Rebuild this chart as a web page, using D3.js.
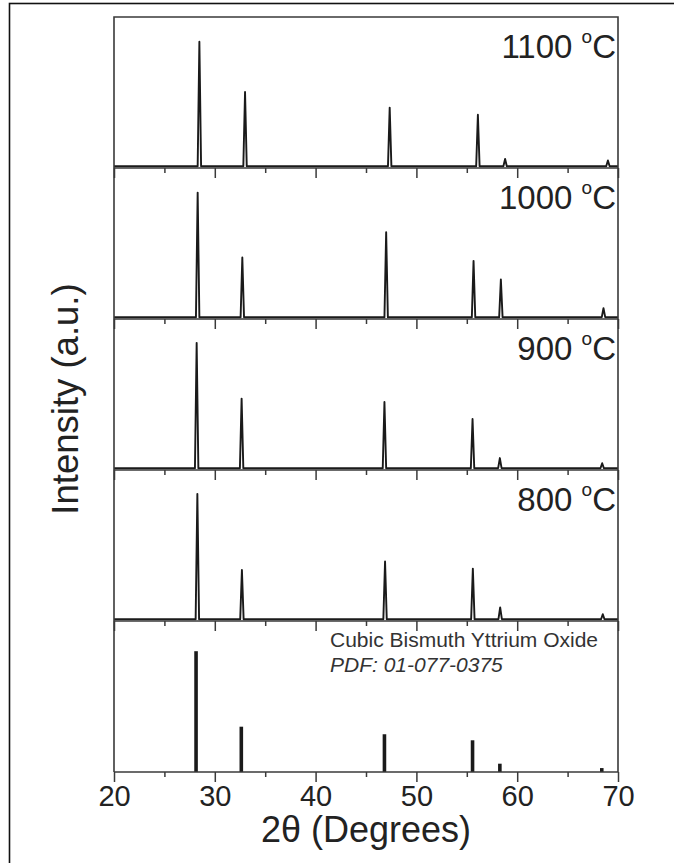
<!DOCTYPE html>
<html>
<head>
<meta charset="utf-8">
<script src="https://cdn.jsdelivr.net/npm/d3@7"></script>
<style>
    body { margin: 0; background: #fff; }
    svg { display: block; font-family: "Liberation Sans", Arial, sans-serif; }
</style>
</head>
<body>
<div id="chart"></div>
<script>
const width = 674;
const height = 863;

// panels, top to bottom
const sampleLabels = ["1100", "1000", "900", "800"];

// peak positions (2theta, deg) and heights (% of panel)
const pos1100 = [28.47, 33.0, 47.35, 56.1, 58.8, 69.0];
const int1100 = [83.6, 50.3, 40.0, 35.3, 6.0, 5.0];
const pos1000 = [28.3, 32.73, 47.0, 55.67, 58.38, 68.56];
const int1000 = [83.7, 40.7, 57.5, 38.5, 26.2, 7.2];
const pos900 = [28.2, 32.66, 46.83, 55.57, 58.28, 68.43];
const int900 = [84.2, 47.3, 45.0, 33.8, 7.9, 4.5];
const pos800 = [28.27, 32.69, 46.89, 55.6, 58.31, 68.49];
const int800 = [84.2, 33.8, 39.4, 34.7, 9.0, 4.5];

// reference pattern PDF 01-077-0375 (stick lines)
const posRef = [28.14, 32.63, 46.83, 55.57, 58.28, 68.39];
const intRef = [80, 30, 25, 21, 5.5, 2.6];

const baseLevel = 1.2;
const xTicks = [20, 30, 40, 50, 60, 70];
const xMinor = [25, 35, 45, 55, 65];

const samples = [
    { label: sampleLabels[0], pos: pos1100, int: int1100 },
    { label: sampleLabels[1], pos: pos1000, int: int1000 },
    { label: sampleLabels[2], pos: pos900, int: int900 },
    { label: sampleLabels[3], pos: pos800, int: int800 }
];

const plotLeft = 114, plotRight = 618, plotTop = 17, panelH = 151;
const nPanels = 5;
const plotBottom = plotTop + panelH * nPanels;

const ink = "#1a1a1a";
const axisCol = "#3a3a3a";

const svg = d3.select("#chart")
    .append("svg")
    .attr("width", width)
    .attr("height", height);

// outer frame of the figure
svg.append("rect")
    .attr("x", 9.5)
    .attr("y", 3.5)
    .attr("width", 720)
    .attr("height", 920)
    .attr("fill", "none")
    .attr("stroke", "#111")
    .attr("stroke-width", 1.6);

const x = d3.scaleLinear()
    .domain([20, 70])
    .range([plotLeft, plotRight]);

const halfWidth = 0.17;

const line = d3.line()
    .x(d => x(d[0]))
    .curve(d3.curveLinear);

samples.forEach((s, i) => {
    const y0 = plotTop + panelH * i;
    const y = d3.scaleLinear()
        .domain([0, 100])
        .range([y0 + panelH, y0]);

    // pattern: flat baseline with a narrow peak at each reflection
    let pts = [[20, baseLevel]];
    s.pos.forEach((p, k) => {
        pts.push([p - halfWidth, baseLevel]);
        pts.push([p, s.int[k]]);
        pts.push([p + halfWidth, baseLevel]);
    });
    pts.push([70, baseLevel]);

    svg.append("path")
        .attr("d", line.y(d => y(d[1]))(pts))
        .attr("fill", "none")
        .attr("stroke", ink)
        .attr("stroke-width", 1.9)
        .attr("stroke-linejoin", "round");

    // sample label, e.g. 1100 oC
    const lab = svg.append("text")
        .attr("x", plotRight - 2)
        .attr("y", y0 + 41)
        .attr("text-anchor", "end")
        .attr("font-size", 33)
        .attr("fill", "#222");
    lab.append("tspan").text(s.label + " ");
    lab.append("tspan")
        .attr("font-size", 19)
        .attr("dy", -15)
        .text("o");
    lab.append("tspan")
        .attr("dy", 15)
        .text("C");
});

// reference stick pattern
const yRef = d3.scaleLinear()
    .domain([0, 100])
    .range([plotBottom, plotBottom - panelH]);

svg.append("g")
    .selectAll("line")
    .data(posRef)
    .enter()
    .append("line")
    .attr("x1", d => x(d))
    .attr("x2", d => x(d))
    .attr("y1", yRef(0))
    .attr("y2", (d, k) => yRef(intRef[k]))
    .attr("stroke", ink)
    .attr("stroke-width", 3.6);

svg.append("text")
    .attr("x", 330)
    .attr("y", plotBottom - panelH + 26)
    .attr("font-size", 21)
    .attr("fill", "#333")
    .text("Cubic Bismuth Yttrium Oxide");

svg.append("text")
    .attr("x", 330)
    .attr("y", plotBottom - panelH + 51)
    .attr("font-size", 21)
    .attr("font-style", "italic")
    .attr("fill", "#333")
    .text("PDF: 01-077-0375");

// x axes under every panel; only the last one gets labels
for (let i = 0; i < nPanels; i++) {
    const yb = plotTop + panelH * (i + 1);
    const last = i == nPanels - 1;

    const g = svg.append("g")
        .attr("transform", "translate(0," + yb + ")");

    g.call(d3.axisBottom(x)
        .tickValues(xMinor)
        .tickSize(5)
        .tickFormat(""));

    g.append("g").call(d3.axisBottom(x)
        .tickValues(xTicks)
        .tickSize(10)
        .tickPadding(3)
        .tickFormat(last ? d3.format("d") : ""));

    g.selectAll("path.domain").remove();
    g.selectAll("line")
        .attr("stroke", axisCol)
        .attr("stroke-width", 1.5);
    g.selectAll("text")
        .attr("font-size", 29)
        .attr("font-family", "Liberation Sans, Arial, sans-serif")
        .attr("fill", "#222");

    svg.append("line")
        .attr("x1", plotLeft)
        .attr("x2", plotRight)
        .attr("y1", yb)
        .attr("y2", yb)
        .attr("stroke", axisCol)
        .attr("stroke-width", 1.6);
}

// panel box: top edge and both sides
svg.append("path")
    .attr("d", "M" + plotLeft + "," + plotBottom + "V" + plotTop + "H" + plotRight + "V" + plotBottom)
    .attr("fill", "none")
    .attr("stroke", axisCol)
    .attr("stroke-width", 1.6);

// axis titles
svg.append("text")
    .attr("transform", "translate(78," + 399 + ") rotate(-90)")
    .attr("text-anchor", "middle")
    .attr("font-size", 36.5)
    .attr("fill", "#222")
    .text("Intensity (a.u.)");

svg.append("text")
    .attr("x", (plotLeft + plotRight) / 2)
    .attr("y", 842)
    .attr("text-anchor", "middle")
    .attr("font-size", 36)
    .attr("fill", "#222")
    .text("2θ (Degrees)");
</script>
</body>
</html>
